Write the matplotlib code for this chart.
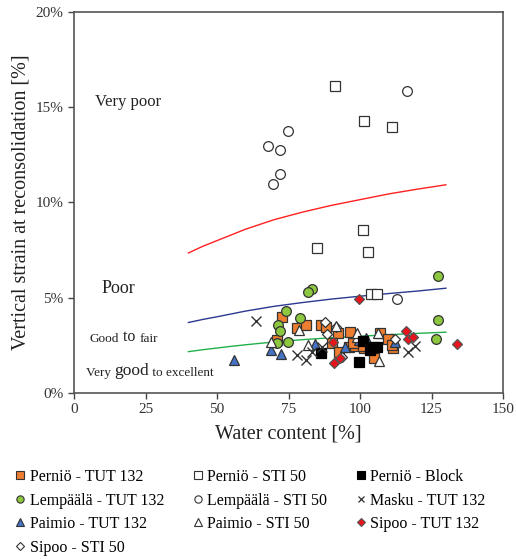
import numpy as np
import matplotlib
matplotlib.use('Agg')
import matplotlib.pyplot as plt
from matplotlib.lines import Line2D

plt.rcParams['font.family'] = ['Liberation Serif', 'DejaVu Serif']

# threshold curves (water content %, strain %)
curve_w = [40, 45, 50, 55, 60, 70, 80, 90, 100, 110, 120, 130]
red_curve = [7.35, 7.7, 8.0, 8.3, 8.6, 9.1, 9.5, 9.85, 10.15, 10.45, 10.7, 10.93]
blue_curve = [3.7, 3.86, 4.0, 4.15, 4.3, 4.55, 4.75, 4.93, 5.08, 5.22, 5.35, 5.5]
green_curve = [2.17, 2.27, 2.36, 2.45, 2.53, 2.68, 2.8, 2.9, 2.98, 3.06, 3.13, 3.19]

# measured points
pernio_tut_w = [72.6, 77.9, 81.1, 86.2, 88.0, 92.4, 96.5, 107.0, 109.9, 70.9, 90.1, 96.3, 98.3,
                101.5, 111.4, 92.8, 104.7, 111.1, 101.2, 97.7]
pernio_tut_s = [3.97, 3.39, 3.59, 3.59, 3.46, 3.17, 3.22, 3.13, 2.82, 2.78, 2.60, 2.43, 2.47,
                2.35, 2.35, 2.17, 1.82, 2.52, 2.45, 2.64]
pernio_sti_w = [91.3, 101.5, 111.3, 100.9, 84.8, 102.8, 103.7, 105.8]
pernio_sti_s = [16.12, 14.28, 13.96, 8.57, 7.59, 7.39, 5.18, 5.18]
pernio_blk_w = [86.3, 99.7, 104.7, 105.8, 103.5, 101.0]
pernio_blk_s = [2.10, 1.62, 2.43, 2.43, 2.26, 2.75]
lemp_tut_w = [127.4, 83.1, 81.9, 74.1, 79.0, 71.4, 72.0, 127.2, 126.5, 74.9, 70.9]
lemp_tut_s = [6.16, 5.47, 5.32, 4.32, 3.95, 3.55, 3.27, 3.83, 2.82, 2.69, 2.60]
lemp_sti_w = [67.9, 72.0, 74.9, 72.0, 69.5, 116.3, 113.0]
lemp_sti_s = [12.98, 12.76, 13.73, 11.51, 10.97, 15.83, 4.93]
masku_w = [63.5, 78.1, 81.0, 83.1, 86.6, 116.9, 119.2]
masku_s = [3.80, 2.02, 1.73, 2.15, 2.43, 2.14, 2.47]
paimio_tut_w = [56.1, 68.8, 72.4, 84.3, 94.8, 99.6, 102.2, 112.2]
paimio_tut_s = [1.73, 2.24, 2.03, 2.57, 2.43, 2.76, 2.91, 2.69]
paimio_sti_w = [68.9, 78.8, 81.7, 99.1, 106.6, 106.4, 98.8, 91.6]
paimio_sti_s = [2.65, 3.33, 2.52, 2.96, 1.68, 3.13, 3.13, 3.5]
sipoo_tut_w = [99.7, 90.7, 91.0, 93.0, 116.1, 116.9, 118.4, 133.8]
sipoo_tut_s = [4.93, 2.69, 1.59, 1.82, 3.23, 2.82, 2.92, 2.57]
sipoo_sti_w = [87.8, 88.3, 91.6, 93.6, 112.2]
sipoo_sti_s = [3.74, 3.10, 3.45, 1.91, 2.82]

orange = '#ED7D31'
green = '#8DC63F'
blue = '#4472C4'
red = '#E8141B'

# order chosen so the column-filled legend reads row by row
series = [
    ('Perniö - TUT 132', pernio_tut_w, pernio_tut_s, 's', orange, '#333333'),
    ('Lempäälä - TUT 132', lemp_tut_w, lemp_tut_s, 'o', green, '#333333'),
    ('Paimio - TUT 132', paimio_tut_w, paimio_tut_s, '^', blue, '#333333'),
    ('Sipoo - STI 50', sipoo_sti_w, sipoo_sti_s, 'D', 'white', '#333333'),
    ('Perniö - STI 50', pernio_sti_w, pernio_sti_s, 's', 'white', '#333333'),
    ('Lempäälä - STI 50', lemp_sti_w, lemp_sti_s, 'o', 'white', '#333333'),
    ('Paimio - STI 50', paimio_sti_w, paimio_sti_s, '^', 'white', '#333333'),
    ('Perniö - Block', pernio_blk_w, pernio_blk_s, 's', 'black', 'black'),
    ('Masku - TUT 132', masku_w, masku_s, 'x', '#333333', '#333333'),
    ('Sipoo - TUT 132', sipoo_tut_w, sipoo_tut_s, 'D', red, '#555555'),
]

fig = plt.figure(figsize=(5.16, 5.59), dpi=100)
ax = fig.add_axes([0.1434, 0.297, 0.8316, 0.6815])

ax.plot(curve_w, red_curve, color='#FF2020', lw=1.0)
ax.plot(curve_w, blue_curve, color='#2B3990', lw=1.0)
ax.plot(curve_w, green_curve, color='#22B04A', lw=1.0)

handles = []
for label, w, s, m, fc, ec in series:
    ms = 5.5 if m == 'D' else 7
    if m == 'x':
        ax.plot(w, s, ls='none', marker='x', ms=7, mew=1.0, color=ec)
        h = Line2D([], [], ls='none', marker='x', ms=5, mew=0.9, color=ec)
    else:
        ax.plot(w, s, ls='none', marker=m, ms=ms, mfc=fc, mec=ec, mew=0.9)
        h = Line2D([], [], ls='none', marker=m, ms=ms * 0.75, mfc=fc, mec=ec, mew=0.8)
    handles.append((h, label))

ax.set_xlim(0, 150)
ax.set_ylim(0, 20)
ax.set_xticks(np.arange(0, 151, 25))
ax.set_yticks(np.arange(0, 21, 5))
ax.set_yticklabels([f'{v}%' for v in range(0, 21, 5)])
ax.tick_params(direction='out', length=4, width=1, colors='#444444', labelsize=11,
               labelcolor='#333333')
for sp in ax.spines.values():
    sp.set_color('#555555')
    sp.set_linewidth(1.2)

ax.set_xlabel('Water content [%]', fontsize=14.5, color='#222222', labelpad=6)
ax.set_ylabel('Vertical strain at reconsolidation [%]', fontsize=14.5, color='#222222', labelpad=4)

ax.text(7.5, 15.3, 'Very poor', fontsize=12, color='#222222', va='center')
ax.text(9.5, 5.5, 'Poor', fontsize=13, color='#222222', va='center')

t1 = ax.text(5.5, 2.7, 'Good', fontsize=9.5, color='#222222', va='baseline')
t2 = ax.annotate(' to ', xy=(1, 0), xycoords=t1, fontsize=11.5, color='#222222', va='bottom')
ax.annotate('fair', xy=(1, 0), xycoords=t2, fontsize=9.5, color='#222222', va='bottom')

t3 = ax.text(4.2, 0.9, 'Very ', fontsize=9.5, color='#222222', va='baseline')
t4 = ax.annotate('good', xy=(1, 0), xycoords=t3, fontsize=12.5, color='#222222', va='bottom')
ax.annotate(' to excellent', xy=(1, 0), xycoords=t4, fontsize=9.5, color='#222222', va='bottom')

fig.legend([h for h, _ in handles], [l for _, l in handles], ncol=3,
           loc='upper left', bbox_to_anchor=(0.03, 0.161), frameon=False,
           fontsize=11.5, handlelength=0.6, handletextpad=0.3, columnspacing=1.8,
           labelspacing=0.47, borderaxespad=0, borderpad=0)

fig.savefig('out.png', dpi=100)
